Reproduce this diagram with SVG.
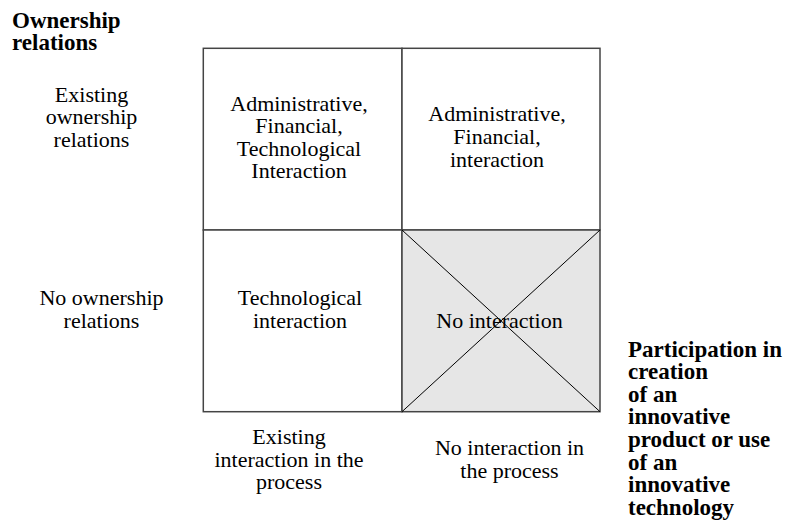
<svg xmlns="http://www.w3.org/2000/svg" width="790" height="520" viewBox="0 0 790 520">
<style>
.t{font-family:"Liberation Serif","Times New Roman",serif;font-size:22px;fill:#000;text-anchor:middle}
.b{font-family:"Liberation Serif","Times New Roman",serif;font-size:23px;font-weight:bold;fill:#000}
.cell{fill:#fff;stroke:#444;stroke-width:1.5}
.grey{fill:#e6e6e6;stroke:#444;stroke-width:1.5}
.x{stroke:#000;stroke-width:1;fill:none}
</style>
<rect width="790" height="520" fill="#fff"/>
<g id="axis-y-title">
<text class="b" x="12" y="28">Ownership</text>
<text class="b" x="12" y="50">relations</text>
</g>
<g id="row-existing">
<text class="t" x="91.5" y="101.5">Existing</text>
<text class="t" x="91.5" y="124">ownership</text>
<text class="t" x="91.5" y="146.5">relations</text>
</g>
<g id="row-none">
<text class="t" x="101.5" y="305">No ownership</text>
<text class="t" x="101.5" y="327.5">relations</text>
</g>
<g id="cell-tl">
<rect class="cell" x="203.3" y="48.3" width="198.7" height="181.7"/>
<text class="t" x="299" y="110.5">Administrative,</text>
<text class="t" x="299" y="133">Financial,</text>
<text class="t" x="299" y="155.5">Technological</text>
<text class="t" x="299" y="178">Interaction</text>
</g>
<g id="cell-tr">
<rect class="cell" x="402" y="48.3" width="198" height="181.7"/>
<text class="t" x="497" y="121">Administrative,</text>
<text class="t" x="497" y="144">Financial,</text>
<text class="t" x="497" y="166.5">interaction</text>
</g>
<g id="cell-bl">
<rect class="cell" x="203.3" y="230" width="198.7" height="181.7"/>
<text class="t" x="300" y="305">Technological</text>
<text class="t" x="300" y="327.5">interaction</text>
</g>
<g id="cell-br">
<rect class="grey" x="402" y="230" width="198" height="181.7"/>
<text class="t" x="499.5" y="328">No interaction</text>
<line class="x" x1="402" y1="230" x2="600" y2="411.7"/>
<line class="x" x1="600" y1="230" x2="402" y2="411.7"/>
</g>
<g id="col-existing">
<text class="t" x="289" y="444">Existing</text>
<text class="t" x="289" y="466.5">interaction in the</text>
<text class="t" x="289" y="488.5">process</text>
</g>
<g id="col-none">
<text class="t" x="509.5" y="455">No interaction in</text>
<text class="t" x="509.5" y="477.5">the process</text>
</g>
<g id="axis-x-title">
<text class="b" x="628" y="356.5">Participation in</text>
<text class="b" x="628" y="379">creation</text>
<text class="b" x="628" y="401.5">of an</text>
<text class="b" x="628" y="424">innovative</text>
<text class="b" x="628" y="447">product or use</text>
<text class="b" x="628" y="469.5">of an</text>
<text class="b" x="628" y="492">innovative</text>
<text class="b" x="628" y="514.5">technology</text>
</g>
<g id="connectors"></g>
</svg>
